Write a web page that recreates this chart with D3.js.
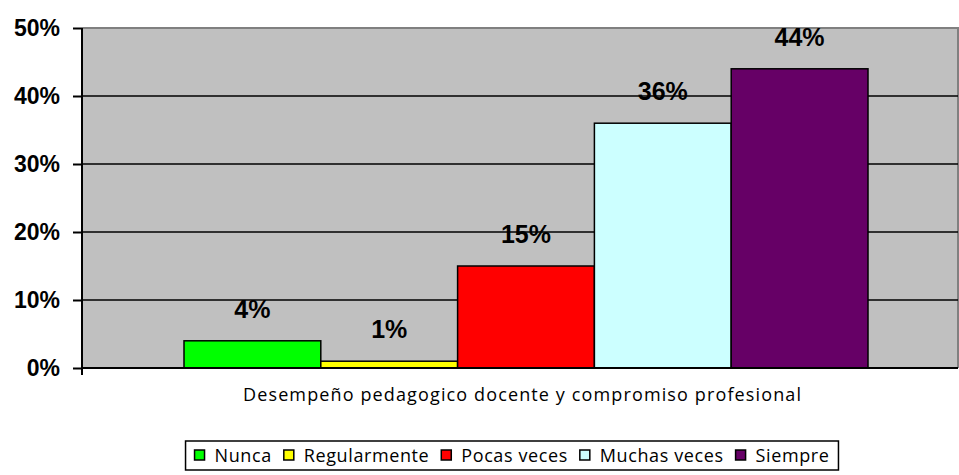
<!DOCTYPE html>
<html>
<head>
<meta charset="utf-8">
<script src="https://cdn.jsdelivr.net/npm/d3@7"></script>
<style>
  body { margin: 0; background: #fff; }
  svg text { font-family: "Open Sans", "Liberation Sans", sans-serif; }
</style>
</head>
<body>
<svg id="chart" width="959" height="475"></svg>
<script>
// data
var category = "Desempeño pedagogico docente y compromiso profesional";
var series = ["Nunca", "Regularmente", "Pocas veces", "Muchas veces", "Siempre"];
var values = [4, 1, 15, 36, 44];
var colors = ["#00FF00", "#FFFF00", "#FF0000", "#CCFFFF", "#660066"];
var yTicks = [0, 10, 20, 30, 40, 50];

var svg = d3.select("#chart");
var plot = {left: 82, right: 958, top: 28, bottom: 368};

var y = d3.scaleLinear().domain([0, 50]).range([plot.bottom, plot.top]);
// one category, bars sit side by side inside it
var x0 = d3.scaleBand().domain([category]).range([plot.left, plot.right]);
var x1 = d3.scaleBand().domain(series).range([184, 868]);

// plot area
svg.append("rect")
  .attr("x", plot.left).attr("y", plot.top)
  .attr("width", plot.right - plot.left).attr("height", plot.bottom - plot.top)
  .attr("fill", "#C0C0C0");
svg.append("path")
  .attr("d", "M" + plot.left + "," + plot.top + "H" + plot.right + "V" + plot.bottom)
  .attr("fill", "none").attr("stroke", "#808080").attr("stroke-width", 2);

// gridlines
svg.append("g").selectAll("line")
  .data(yTicks.filter(function(d) { return d > 0 && d < 50; }))
  .enter().append("line")
  .attr("x1", plot.left).attr("x2", plot.right)
  .attr("y1", function(d) { return y(d); }).attr("y2", function(d) { return y(d); })
  .attr("stroke", "#000").attr("stroke-width", 1.5);

// bars
svg.append("g").selectAll("rect")
  .data(values)
  .enter().append("rect")
  .attr("x", function(d, i) { return x1(series[i]); })
  .attr("width", x1.bandwidth())
  .attr("y", function(d) { return y(d); })
  .attr("height", function(d) { return plot.bottom - y(d); })
  .attr("fill", function(d, i) { return colors[i]; })
  .attr("stroke", "#000").attr("stroke-width", 1.5);

// data labels
svg.append("g").selectAll("text")
  .data(values)
  .enter().append("text")
  .attr("x", function(d, i) { return x1(series[i]) + x1.bandwidth() / 2; })
  .attr("y", function(d) { return y(d) - 23; })
  .attr("text-anchor", "middle")
  .style("font-family", "'Liberation Sans', Arial, sans-serif")
  .style("font-weight", "bold").style("font-size", "25px")
  .text(function(d) { return d + "%"; });

// y axis
var yAxis = d3.axisLeft(y).tickValues(yTicks).tickSize(9).tickPadding(13)
  .tickFormat(function(d) { return d + "%"; });
var gy = svg.append("g").attr("transform", "translate(" + plot.left + ",0)").call(yAxis);
gy.select(".domain").attr("stroke", "#000").attr("stroke-width", 2).attr("d", "M0," + plot.top + "V" + plot.bottom);
gy.selectAll(".tick line").attr("stroke", "#000").attr("stroke-width", 2);
gy.selectAll(".tick text")
  .style("font-family", "'Liberation Sans', Arial, sans-serif")
  .style("font-weight", "bold").style("font-size", "23px").attr("fill", "#000");

// x axis
var xAxis = d3.axisBottom(x0).tickSize(0).tickPadding(20);
var gx = svg.append("g").attr("transform", "translate(0," + plot.bottom + ")").call(xAxis);
gx.select(".domain").attr("stroke", "#000").attr("stroke-width", 2).attr("d", "M" + plot.left + ",0H" + plot.right);
gx.selectAll(".tick text")
  .style("font-size", "18px").attr("fill", "#000")
  .attr("x", 2)
  .attr("textLength", 558).attr("lengthAdjust", "spacing");
gx.append("line").attr("x1", plot.left).attr("x2", plot.left).attr("y1", 0).attr("y2", 7)
  .attr("stroke", "#000").attr("stroke-width", 2);

// legend
var legend = svg.append("g");
var items = legend.selectAll("g").data(series).enter().append("g");
items.append("rect").attr("width", 10).attr("height", 10).attr("y", -12)
  .attr("fill", function(d, i) { return colors[i]; })
  .attr("stroke", "#000").attr("stroke-width", 1.5);
items.append("text").attr("x", 20).attr("y", 0)
  .style("font-size", "18px").style("letter-spacing", "0.6px")
  .text(function(d) { return d; });
var pos = 0;
items.each(function() {
  var w = this.getBBox().width;
  d3.select(this).attr("transform", "translate(" + pos + ",0)");
  pos += w + 12;
});
var legendW = pos - 12;
var lx = 512 - legendW / 2, ly = 462;
legend.attr("transform", "translate(" + lx + "," + ly + ")");
legend.insert("rect", ":first-child")
  .attr("x", -9).attr("y", -21).attr("width", legendW + 18).attr("height", 29)
  .attr("fill", "#fff").attr("stroke", "#000").attr("stroke-width", 1.5);
</script>
</body>
</html>
